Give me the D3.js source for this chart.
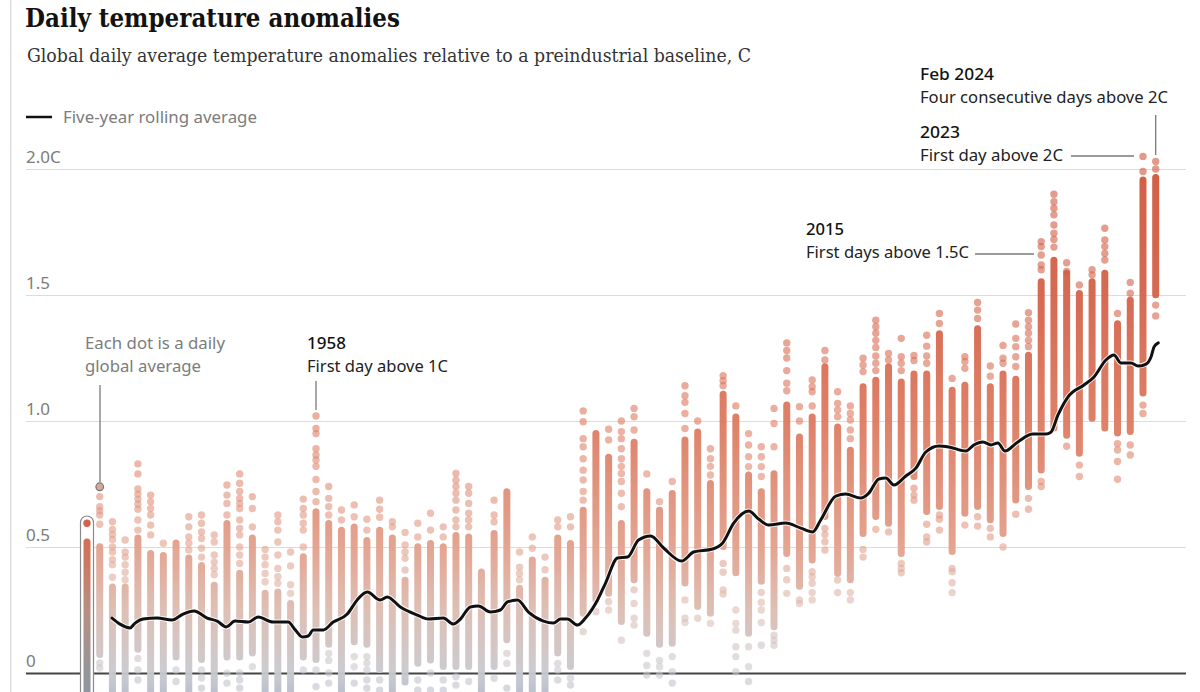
<!DOCTYPE html>
<html><head><meta charset="utf-8">
<script src="https://cdnjs.cloudflare.com/ajax/libs/d3/7.8.5/d3.min.js"></script>
<style>
html,body{margin:0;padding:0;background:#fff;overflow:hidden}
svg{display:block}
text{font-family:"Noto Sans",sans-serif}
</style></head><body><svg id="c" width="1200" height="692"></svg>
<script>
const years = d3.range(1940, 2025);
const tickValues = [0, 0.5, 1, 1.5, 2];
const tickLabels = ["0", "0.5", "1.0", "1.5", "2.0C"];

// top and bottom of the dense, unbroken run of daily dots in each year
const coreHigh = [.534,.515,.355,.355,.55,.488,.48,.53,.47,.44,.362,.607,.41,.55,.33,.335,.29,.475,.654,.607,.58,.593,.54,.58,.55,
 .382,.515,.528,.515,.56,.554,.415,.567,.733,.35,.462,.382,.55,.528,.66,.964,.87,.607,.93,.733,.66,.726,.938,.97,.766,1.12,1.03,.80,.733,.805,1.077,
 .95,1.03,1.229,.99,.898,1.15,1.176,1.229,1.169,1.2,1.2,1.36,1.136,1.156,1.38,1.15,1.2,1.18,1.275,1.566,1.652,1.6,1.52,1.566,1.6,1.4,1.493,1.97,1.98];
const coreLow = [-.2,.06,-.2,-.2,.08,-.2,-.2,.05,-.2,.04,-.2,.05,.05,.065,-.2,-.2,-.2,.05,.04,.1,-.2,.11,.1,0,-.2,
 -.05,.025,.038,.012,.012,.012,-.2,.012,.118,-.2,-.2,-.2,.065,.012,.223,.277,.303,.19,.356,.144,.1,.104,.343,.25,.223,.488,.384,.144,.35,.17,.46,
 .33,.435,.607,.382,.356,.54,.607,.58,.46,.766,.627,.647,.468,.62,.647,.594,.54,.673,.726,.792,.958,.93,.858,.997,.958,.938,.944,1.097,1.487];
// separate dots visible above and below that run
const upperDots = [
 [.594],[.739,.70,.66,.644,.627,.59],[.60,.57,.55,.53,.50,.48,.45,.43,.38],[.528,.48,.46,.43,.40,.37],[.83,.79,.73,.71,.69,.67,.65,.607,.567],
 [.706,.68,.653,.627,.587,.548],[.515],[],[.62,.58,.54,.515,.488],[.627,.594,.56,.534,.495,.46],
 [.548,.52,.468,.44,.415,.39],[.746,.706,.673,.627],[.79,.753,.72,.693,.673,.653,.607,.574,.548,.50,.468,.435],[.70,.653,.58],[.49,.46,.43,.395,.362],
 [.627,.60,.567,.52,.468,.415,.382,.356],[.48,.425,.35,.316],[.69,.653,.627,.594,.567,.50],[1.02,.97,.95,.89,.865,.845,.82,.768,.72,.68],[.74,.693,.66,.627],
 [.647,.607],[.667,.62],[.61,.567],[.686,.65,.618],[.6,.58],
 [.558,.508,.48,.455,.409],[.594,.54],[.634,.567],[.58,.54],[.792,.765,.74,.713,.686,.647,.607,.58],
 [.74,.713,.673,.634,.607,.58],[],[.686,.627,.6],[],[.48,.42,.395,.37],
 [.54,.495],[.46,.41],[.607,.58],[.62,.58],[1.04,.997,.93,.898,.85,.805,.766,.72,.686],
 [],[.967,.925],[1.0,.958,.93,.89,.85,.82,.792,.76,.713,.66],[1.05,1.017,.964],[.79],
 [.68],[.76],[1.14,1.10,1.074,1.03,.97],[1.0],[.89,.85,.82,.786],
 [1.18,1.16,1.14],[1.06],[.95,.905,.858,.819],[.898,.858,.819,.78],[1.05,.99,.898],
 [1.31,1.28,1.25,1.2,1.15,1.12],[1.057,1.0],[1.163,1.136,1.116,1.06],[1.28,1.242],[1.116,1.07,1.044,1.017],
 [1.06,1.03,1.004,.964,.93],[1.249,1.222,1.196],[1.40,1.374,1.348,1.32,1.292,1.258,1.229,1.2],[1.268,1.242],[1.328,1.255,1.229,1.2],
 [1.26,1.24],[1.34,1.297,1.258,1.229],[1.427,1.387],[1.169],[1.255,1.236,1.209],
 [1.47,1.44,1.407],[1.218,1.178],[1.3,1.249,1.229],[1.385,1.328,1.295,1.255,1.216],[1.43,1.4,1.374,1.348,1.32,1.295],
 [1.712,1.692,1.659,1.619,1.6],[1.9,1.87,1.844,1.818,1.778,1.745,1.72,1.69],[1.628,1.593],[1.54],[1.6,1.58],
 [1.765,1.718,1.692,1.665,1.639],[1.427],[1.55,1.507],[2.05,1.99],[2.03,2.0]];
const lowerDots = [
 [],[.04,.02],[],[],[.058,.012,-.028],[],[],[.012,-.034],[],[.012,-.02,-.06],
 [],[-.001,-.04],[0,-.028,-.06],[.025],[],[],[],[.012],[.012,-.054],[.078,.05,0,-.04],
 [],[.065,.025,-.04],[.065,.04,.012,-.028,-.06],[-.028,-.068],[],
 [],[-.028,-.068],[0,-.068],[-.028,-.068],[-.015,-.048],[-.034],[],[-.021],[.078,.038,-.06],[],
 [],[],[.038,.012,-.028],[-.021,-.048],[.164],[.243],[.283,.25],[.13],[.33,.276,.217,.19],[.078,.03,-.008],
 [.05,.025,-.008],[.065,.005,-.04],[.29,.217,.2],[.217],[.197],[.435,.40,.33,.313],[.25,.197,.17,.104,.065,.005],[.104,.025,-.034],[.32,.28,.25,.2,.11],[.15,.13,.11],
 [.415,.37,.316],[.29,.276],[.402,.382,.356,.319,.29],[.574,.55,.521,.488],[.369,.319],
 [.319,.29],[.49,.46],[.57],[.56],[.435,.415,.398],
 [.733,.706,.686],[.59,.54,.52],[.627,.61,.567],[.415,.402,.358,.319],[.587],
 [.62,.583],[.574,.54],[.5],[.63],[.693,.65],
 [.76,.74],[],[.9],[.825,.78],[],
 [],[.91,.885,.839,.769],[.905,.865],[1.063,1.03],[1.46,1.417]];

const rollingYears = [1941.97,1942.6,1943.38,1943.78,1944.41,1945.51,1946.69,1947.55,1948.42,1949.44,1950.23,1950.94,1951.64,1952.67,1953.45,1954.63,1955.81,1956.37,1956.92,1957.39,1957.78,1958.57,1959.35,1960.46,1961.24,1962.03,1963.05,1963.6,1964.63,1965.96,1966.83,1968.01,1968.8,1969.35,1970.13,1970.76,1971.71,1972.49,1973.05,1973.83,1974.7,1975.88,1976.66,1977.21,1977.77,1978.55,1979.18,1980.13,1980.76,1981.7,1982.49,1983.35,1984.3,1985.32,1986.74,1987.68,1989.17,1989.96,1990.83,1992.01,1992.79,1993.58,1994.92,1996.1,1997.04,1997.67,1998.85,1999.64,2000.82,2001.45,2002.24,2002.79,2003.42,2004.36,2005.15,2005.93,2006.96,2007.74,2009.08,2009.71,2010.42,2011.05,2011.6,2012.15,2013.17,2014.35,2015.37,2015.77,2016.32,2017.1,2018.36,2019.15,2020.09,2020.72,2021.27,2022.06,2022.61,2023.24,2023.63,2023.87,2024.2];
const rollingValues = [.218,.194,.179,.198,.214,.218,.21,.234,.246,.218,.206,.183,.206,.202,.222,.202,.202,.171,.143,.147,.171,.171,.202,.234,.29,.321,.29,.302,.262,.23,.214,.218,.194,.214,.262,.266,.242,.25,.282,.29,.242,.206,.198,.214,.214,.19,.218,.29,.357,.456,.46,.528,.544,.496,.444,.48,.492,.516,.595,.643,.611,.587,.595,.575,.56,.607,.702,.71,.694,.714,.77,.774,.746,.782,.813,.877,.901,.897,.881,.905,.917,.905,.913,.881,.917,.948,.948,.956,1.024,1.095,1.143,1.175,1.242,1.262,1.23,1.23,1.218,1.226,1.254,1.294,1.31];

const svg = d3.select("#c");
const x = d3.scaleLinear().domain([1940, 2024]).range([87, 1155.7]);
const y = d3.scaleLinear().domain([0, 2]).range([673, 169]);

const colourDomain = [2, 1.5, 1, 0.5, 0.25, 0, -0.2];
const colour = d3.scaleLinear().domain(colourDomain)
  .range(["#cf573b","#d4624a","#dd7a60","#e2a08c","#dcbcb1","#c8c9cf","#9fabc4"]);
const darkDomain = [0.6, 0.5, 0.25, 0, -0.2];
const darkColour = d3.scaleLinear().domain(darkDomain)
  .range(["#d2634a","#cf6a50","#b5897a","#8f9094","#8290aa"]);

const defs = svg.append("defs");
function gradient(id, scale, domain){
  defs.append("linearGradient").attr("id", id).attr("gradientUnits", "userSpaceOnUse")
    .attr("x1", 0).attr("x2", 0).attr("y1", y(2)).attr("y2", y(-0.2))
    .selectAll("stop").data(domain).join("stop")
    .attr("offset", d => (2 - d) / 2.2)
    .attr("stop-color", d => scale(d));
}
gradient("core", colour, colourDomain);
gradient("coreDark", darkColour, darkDomain);

// left rule
svg.append("rect").attr("x", 10).attr("y", 0).attr("width", 1.5).attr("height", 692).attr("fill", "#dedede");

// axis + grid
const axis = d3.axisLeft(y).tickValues(tickValues)
  .tickFormat((d, i) => tickLabels[i]).tickSize(-1160).tickPadding(0);
const gAxis = svg.append("g").attr("transform", "translate(26,0)").call(axis);
gAxis.select(".domain").remove();
gAxis.selectAll("line").attr("stroke", d => d === 0 ? "#444" : "#dcdcdc")
  .attr("stroke-width", d => d === 0 ? 2 : 1);
gAxis.selectAll("text").attr("x", 0).attr("dy", -6.5).attr("text-anchor", "start")
  .attr("fill", "#7c7c7c").style("font-size", "17px").style("font-family", '"Noto Sans",sans-serif');

// highlight round first year
svg.append("rect").attr("x", 80.5).attr("y", 516).attr("width", 13).attr("height", 200).attr("rx", 6.5)
  .attr("fill", "#fff").attr("stroke", "#8a8a8a").attr("stroke-width", 1.2);

// columns
const cols = svg.append("g").selectAll("g").data(years).join("g");
const isFirst = i => i === 0;
cols.append("rect")
  .attr("x", d => x(d) - 3.5).attr("width", 7).attr("rx", 3.5)
  .attr("y", (d, i) => y(coreHigh[i]))
  .attr("height", (d, i) => y(coreLow[i]) - y(coreHigh[i]))
  .attr("fill", (d, i) => isFirst(i) ? "url(#coreDark)" : "url(#core)")
  .attr("opacity", 0.95);
cols.each(function(d, i){
  d3.select(this).selectAll("circle")
    .data(upperDots[i].concat(lowerDots[i])).join("circle")
    .attr("cx", x(d)).attr("cy", v => y(v)).attr("r", 3.7)
    .attr("fill", v => isFirst(i) ? darkColour(v) : colour(v))
    .attr("opacity", isFirst(i) ? 1 : 0.6);
});

// leaders
const leader = "#7a7a7a";
const leaders = [
  [100, 385, 100, 482], [316, 381, 316, 410],
  [975, 254, 1034, 254], [1071, 156, 1134, 156], [1155.7, 115, 1155.7, 155]
];
svg.append("g").selectAll("line").data(leaders).join("line")
  .attr("x1", d => d[0]).attr("y1", d => d[1]).attr("x2", d => d[2]).attr("y2", d => d[3])
  .attr("stroke", leader).attr("stroke-width", 1.3);
svg.append("circle").attr("cx", x(1941)).attr("cy", y(.739)).attr("r", 3.8)
  .attr("fill", "#d9a79a").attr("stroke", "#777").attr("stroke-width", 1.2);

// rolling average
const line = d3.line().x(d => x(d[0])).y(d => y(d[1])).curve(d3.curveMonotoneX);
const rolling = d3.zip(rollingYears, rollingValues);
svg.append("path").datum(rolling).attr("d", line).attr("fill", "none")
  .attr("stroke", "#fff").attr("stroke-width", 5).attr("stroke-linejoin", "round").attr("opacity", .85);
svg.append("path").datum(rolling).attr("d", line).attr("fill", "none")
  .attr("stroke", "#111").attr("stroke-width", 3).attr("stroke-linejoin", "round").attr("stroke-linecap", "round");

// text
function label(t, px, py, size, fill, opts = {}){
  const e = svg.append("text").attr("x", px).attr("y", py).attr("fill", fill)
    .style("font-size", size + "px").text(t);
  if (opts.family) e.style("font-family", opts.family);
  if (opts.weight) e.style("font-weight", opts.weight);
  if (opts.width) e.attr("textLength", opts.width).attr("lengthAdjust", "spacingAndGlyphs");
  return e;
}
label("Daily temperature anomalies", 25, 27, 26, "#121212", {family: '"DejaVu Serif",serif', weight: 700, width: 375});
label("Global daily average temperature anomalies relative to a preindustrial baseline, C", 27, 62, 18, "#333",
  {family: '"DejaVu Serif",serif', width: 724});
svg.append("line").attr("x1", 26).attr("x2", 52).attr("y1", 117).attr("y2", 117).attr("stroke", "#111").attr("stroke-width", 2.5);
label("Five-year rolling average", 63, 123, 16.5, "#7c7c7c", {width: 194});
label("Each dot is a daily", 85, 349, 16.5, "#7c7c7c", {width: 140});
label("global average", 85, 372, 16.5, "#7c7c7c", {width: 116});
label("1958", 307, 349, 16.5, "#121212", {weight: 500, width: 39});
label("First day above 1C", 307, 372, 16.5, "#222", {width: 141});
label("2015", 806, 235, 16.5, "#121212", {weight: 500, width: 38});
label("First days above 1.5C", 806, 258, 16.5, "#222", {width: 163});
label("Feb 2024", 920, 80, 16.5, "#121212", {weight: 500, width: 74});
label("Four consecutive days above 2C", 920, 103, 16.5, "#222", {width: 248});
label("2023", 920, 138, 16.5, "#121212", {weight: 500, width: 40});
label("First day above 2C", 920, 161, 16.5, "#222", {width: 143});
</script></body></html>
